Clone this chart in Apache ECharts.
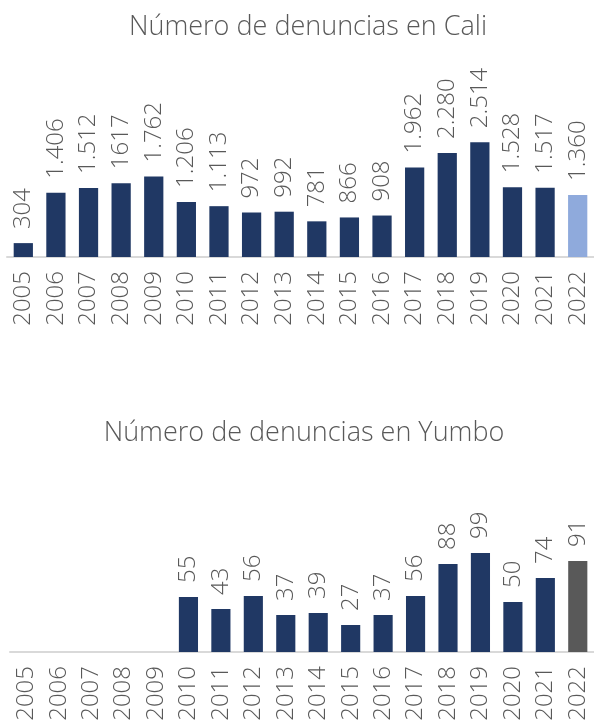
<!DOCTYPE html>
<html>
<head>
<meta charset="utf-8">
<script src="https://cdn.jsdelivr.net/npm/echarts@6/dist/echarts.min.js"></script>
<style>
  html, body { margin: 0; padding: 0; background: #fff; }
  #chart { width: 594px; height: 724px; }
</style>
</head>
<body>
<div id="chart"></div>
<script>
// años (eje x de ambas gráficas)
const years = ['2005', '2006', '2007', '2008', '2009', '2010', '2011', '2012', '2013',
  '2014', '2015', '2016', '2017', '2018', '2019', '2020', '2021', '2022'];

// denuncias en Cali
const caliValues = [304, 1406, 1512, 1617, 1762, 1206, 1113, 972, 992,
  781, 866, 908, 1962, 2280, 2514, 1528, 1517, 1360];
// etiquetas tal como aparecen (2008 sin punto)
const caliLabels = ['304', '1.406', '1.512', '1617', '1.762', '1.206', '1.113', '972', '992',
  '781', '866', '908', '1.962', '2.280', '2.514', '1.528', '1.517', '1.360'];

// denuncias en Yumbo (sin datos 2005-2009)
const yumboValues = ['-', '-', '-', '-', '-', 55, 43, 56, 37,
  39, 27, 37, 56, 88, 99, 50, 74, 91];

const textColor = '#595959';
const navy = '#203864';
const font = 'Open Sans';

const chart = echarts.init(document.getElementById('chart'));

function barData(values, lastColor) {
  return values.map(function (v, i) {
    if (i === values.length - 1) {
      return { value: v, itemStyle: { color: lastColor } };
    }
    return v;
  });
}

function xAxisCfg(gridIndex) {
  return {
    type: 'category',
    gridIndex: gridIndex,
    data: years,
    axisLine: { lineStyle: { color: '#d9d9d9', width: 2 } },
    axisTick: { show: false },
    axisLabel: {
      rotate: 90,
      margin: 14,
      interval: 0,
      color: textColor,
      fontFamily: font,
      fontWeight: 300,
      fontSize: 24
    }
  };
}

function labelCfg(formatter) {
  return {
    show: true,
    position: 'top',
    rotate: 90,
    align: 'left',
    verticalAlign: 'middle',
    distance: 14,
    color: textColor,
    fontFamily: font,
    fontWeight: 300,
    fontSize: 24,
    formatter: formatter
  };
}

chart.setOption({
  animation: false,
  title: [
    {
      text: 'Número de denuncias en Cali',
      left: 303,
      top: 9,
      textAlign: 'center',
      textStyle: { color: textColor, fontFamily: font, fontWeight: 300, fontSize: 27 }
    },
    {
      text: 'Número de denuncias en Yumbo',
      left: 299,
      top: 415,
      textAlign: 'center',
      textStyle: { color: textColor, fontFamily: font, fontWeight: 300, fontSize: 27 }
    }
  ],
  grid: [
    { left: 7, top: 120, width: 591, height: 137 },
    { left: 10, top: 512, width: 584, height: 140 }
  ],
  xAxis: [xAxisCfg(0), xAxisCfg(1)],
  yAxis: [
    { type: 'value', gridIndex: 0, min: 0, max: 3000, show: false, splitLine: { show: false } },
    { type: 'value', gridIndex: 1, min: 0, max: 140, show: false, splitLine: { show: false } }
  ],
  series: [
    {
      type: 'bar',
      xAxisIndex: 0,
      yAxisIndex: 0,
      barWidth: '59%',
      itemStyle: { color: navy },
      label: labelCfg(function (p) { return caliLabels[p.dataIndex]; }),
      data: barData(caliValues, '#8faadc')
    },
    {
      type: 'bar',
      xAxisIndex: 1,
      yAxisIndex: 1,
      barWidth: '59%',
      itemStyle: { color: navy },
      label: labelCfg('{c}'),
      data: barData(yumboValues, '#595959')
    }
  ]
});
</script>
</body>
</html>
